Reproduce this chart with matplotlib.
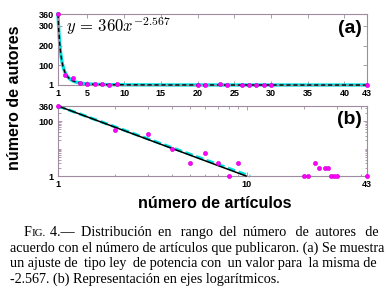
import numpy as np
import matplotlib
matplotlib.use('Agg')
from matplotlib import pyplot as plt
from matplotlib.ticker import FixedLocator, NullFormatter

plt.rcParams['mathtext.fontset'] = 'cm'

# datos
articulos = [1, 2, 3, 4, 5, 6, 7, 8, 9, 20, 21, 23, 24, 26, 27, 28, 29, 30, 43]
autores = [360, 49, 34, 10, 3, 7, 3, 1, 3, 1, 1, 3, 2, 2, 2, 1, 1, 1, 1]

# ajuste de ley de potencia y = A x^-k
amp = 360
expo = 2.567
expo_alt = 2.52
rango_ajuste = [1, 9.9]
rango_alt = [1, 10.4]

xticks_a = [1, 5, 10, 15, 20, 25, 30, 35, 40, 43]
yticks_a = [1, 100, 200, 300, 360]
xticks_b = [1, 10, 43]
yticks_b = [1, 100, 360]

caption = [
    "4.— Distribución en rango del número de autores de",
    "acuerdo con el número de artículos que publicaron. (a) Se muestra",
    "un ajuste de tipo ley de potencia con un valor para la misma de",
    "-2.567. (b) Representación en ejes logarítmicos.",
]

frame = '#a08ca0'
tick_font = dict(family='Liberation Sans', weight='bold', size=6.5)

W, H = 388, 293
fig = plt.figure(figsize=(W / 100, H / 100), dpi=100)
ax1 = fig.add_axes([58 / W, 1 - 85 / H, 308.5 / W, 71 / H])
ax2 = fig.add_axes([58 / W, 1 - 176 / H, 308.5 / W, 70 / H])

for ax in (ax1, ax2):
    for s in ax.spines.values():
        s.set_color(frame)
        s.set_linewidth(0.8)
    ax.tick_params(which='both', direction='in', top=True, right=True,
                   color=frame, length=3, width=0.6, pad=3)
    ax.tick_params(which='minor', length=1.8)

# (a) escala lineal
xs = np.linspace(1, 43, 400)
ax1.plot(xs, amp * xs ** -expo, color='#00e0e0', lw=2.4, clip_on=False, zorder=2)
ax1.plot(xs, amp * xs ** -expo, color='black', lw=1.0, ls=(0, (3, 2)), clip_on=False, zorder=3)
ax1.plot(articulos, autores, 'o', color='#ff00ff', ms=3, mec='#cc00cc', mew=0.4,
         clip_on=False, zorder=4)
ax1.set_xlim(1, 43)
ax1.set_ylim(0, 360)
ax1.set_xticks(xticks_a)
ax1.set_yticks(yticks_a)
ax1.set_xticklabels([str(v) for v in xticks_a], fontdict=tick_font)
ax1.set_yticklabels([str(v) for v in yticks_a], fontdict=tick_font)
ax1.text(0.026, 0.83, r'$y\,=\,360x^{-2.567}$', transform=ax1.transAxes,
         fontsize=12, va='center', ha='left')
ax1.text(0.985, 0.80, '(a)', transform=ax1.transAxes, ha='right', va='center',
         family='Liberation Sans', weight='bold', fontsize=14)

# (b) escala logaritmica
xa = np.linspace(rango_alt[0], rango_alt[1], 200)
xf = np.linspace(rango_ajuste[0], rango_ajuste[1], 200)
ax2.plot(xa, amp * xa ** -expo_alt, color='#00e0e0', lw=2.2, ls=(0, (2.5, 1.2)),
         clip_on=False, zorder=2)
ax2.plot(xf, amp * xf ** -expo, color='black', lw=1.1, clip_on=False, zorder=3)
ax2.plot(articulos, autores, 'o', color='#ff00ff', ms=3, mec='#cc00cc', mew=0.4,
         clip_on=False, zorder=4)
ax2.set_xscale('log')
ax2.set_yscale('log')
ax2.set_xlim(1, 43)
ax2.set_ylim(1, 360)
ax2.xaxis.set_major_locator(FixedLocator(xticks_b))
ax2.yaxis.set_major_locator(FixedLocator(yticks_b))
ax2.xaxis.set_minor_locator(FixedLocator([2, 3, 4, 5, 6, 7, 8, 9, 20, 30, 40]))
ax2.yaxis.set_minor_locator(FixedLocator([2, 3, 4, 5, 6, 7, 8, 9, 10, 20, 30, 40, 50, 60, 70, 80, 90, 200, 300]))
ax2.xaxis.set_minor_formatter(NullFormatter())
ax2.yaxis.set_minor_formatter(NullFormatter())
ax2.set_xticklabels([str(v) for v in xticks_b], fontdict=tick_font)
ax2.set_yticklabels([str(v) for v in yticks_b], fontdict=tick_font)
ax2.text(0.985, 0.81, '(b)', transform=ax2.transAxes, ha='right', va='center',
         family='Liberation Sans', weight='bold', fontsize=14)

fig.text(15 / W, 1 - 98 / H, 'número de autores', rotation=90, ha='center', va='center',
         family='Liberation Sans', weight='bold', fontsize=11.5)
fig.text(215 / W, 1 - 203 / H, 'número de artículos', ha='center', va='center',
         family='Liberation Sans', weight='bold', fontsize=11.5)

# pie de figura: una cadena por renglon, justificada con espacios finos
renderer = fig.canvas.get_renderer()
serif = ['Liberation Serif', 'DejaVu Serif']
csize = 10.2


def width_px(txt, size=csize):
    t = fig.text(0, 0, txt, family=serif, size=size)
    w = t.get_window_extent(renderer).width
    t.remove()
    return w


def justified(line, x0, x1):
    words = line.split()
    widths = [width_px(w) for w in words]
    gap = (x1 - x0 - sum(widths)) / (len(words) - 1)
    s = words[0]
    for i in range(1, len(words)):
        target = sum(widths[:i]) + i * gap
        s += ' '
        while width_px(s + '\u2009' + words[i]) - widths[i] <= target + 0.8:
            s += '\u2009'
        s += words[i]
    return s


# "FIG." en versalitas
x_fig = 24
fig.text(x_fig / W, 1 - 236 / H, 'F', family=serif, size=csize, va='baseline')
x_ig = x_fig + width_px('F')
fig.text(x_ig / W, 1 - 236 / H, 'IG.', family=serif, size=csize * 0.78, va='baseline')
x_rest = x_ig + width_px('IG.', csize * 0.78) + 4

fig.text(x_rest / W, 1 - 236 / H, justified(caption[0], x_rest, 378),
         family=serif, size=csize, va='baseline')
fig.text(10 / W, 1 - 251.5 / H, justified(caption[1], 10, 378),
         family=serif, size=csize, va='baseline')
fig.text(10 / W, 1 - 267 / H, justified(caption[2], 10, 378),
         family=serif, size=csize, va='baseline')
fig.text(10 / W, 1 - 282.5 / H, caption[3], family=serif, size=csize, va='baseline')

fig.savefig('out.png', dpi=100)
